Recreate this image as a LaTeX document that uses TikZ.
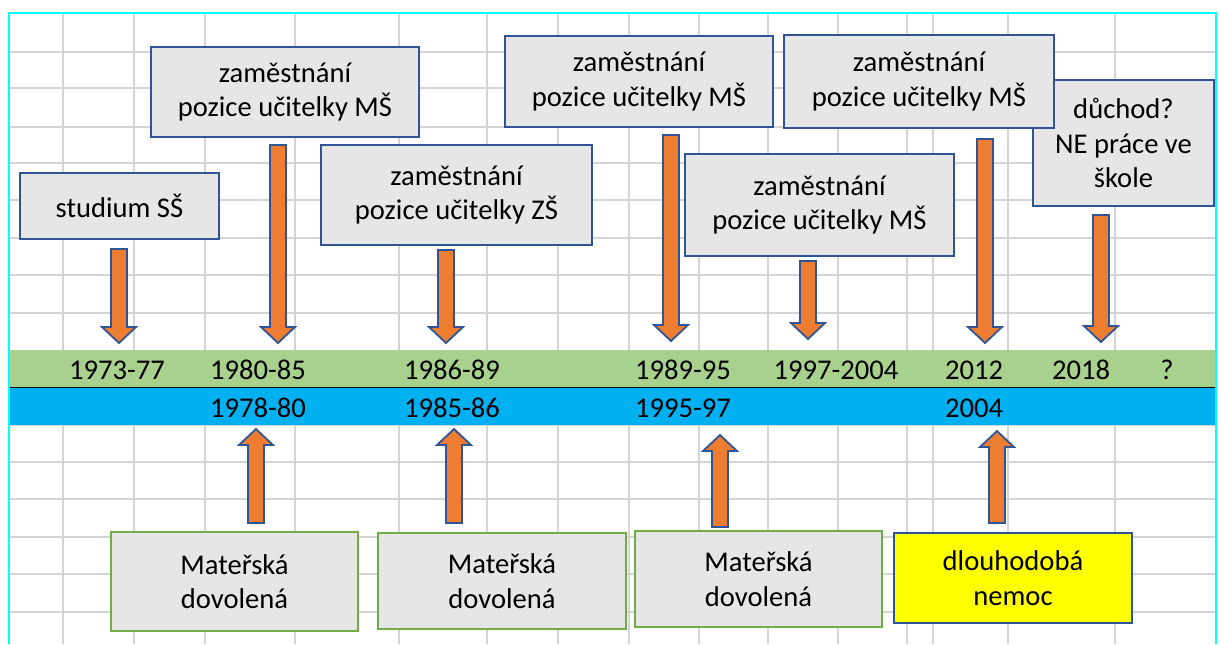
\documentclass[tikz,border=0pt]{standalone}
\usepackage{fontspec}
\setmainfont{Carlito}
\usetikzlibrary{calc}

\definecolor{boxblue}{HTML}{2F5597}
\definecolor{arrorange}{HTML}{ED7D31}
\definecolor{boxgray}{HTML}{E7E6E6}
\definecolor{bandgreen}{HTML}{A9D18E}
\definecolor{bandblue}{HTML}{00B0F0}
\definecolor{gridgray}{HTML}{D4D4D4}
\definecolor{matgreen}{HTML}{70AD47}
\definecolor{sheetcyan}{HTML}{00FFFF}
\definecolor{sickyellow}{HTML}{FFFF00}

% block arrow from tail #1 to tip #2
\newcommand\blockarrow[2]{%
  \coordinate (hb) at ($(#2)!8pt!(#1)$);
  \filldraw[blockarr]
    ($(#1)!4pt!90:(#2)$) -- ($(hb)!4pt!90:(#2)$) -- ($(hb)!8.5pt!90:(#2)$)
    -- (#2)
    -- ($(hb)!8.5pt!-90:(#2)$) -- ($(hb)!4pt!-90:(#2)$) -- ($(#1)!4pt!-90:(#2)$) -- cycle;
}

\begin{document}
\begin{tikzpicture}[x=0.5pt,y=-0.5pt,
  txt/.style={font=\fontsize{14.3}{17.3}\selectfont},
  box/.style={txt, draw=boxblue, line width=1pt, fill=boxgray, align=center, inner sep=0pt},
  matbox/.style={box, draw=matgreen},
  sickbox/.style={box, fill=sickyellow},
  yearlbl/.style={txt, anchor=base, inner sep=0pt},
  gridline/.style={draw=gridgray, line width=0.75pt},
  blockarr/.style={fill=arrorange, draw=boxblue, line width=0.9pt, line join=miter}]

\useasboundingbox (0,0) rectangle (1221,644);
\fill[white] (0,0) rectangle (1221,644);

% spreadsheet grid
\foreach \x in {63,134,205,295,399,487,558,629,699,768,838,907,933,1008,1115}
  \draw[gridline] (\x,13) -- (\x,644);
\foreach \y in {52,88,127,163,200,238,275,313,425,462,499,537,574,612}
  \draw[gridline] (9,\y) -- (1216,\y);

% timeline bands
\fill[bandgreen] (9,350) rectangle (1216,387);
\fill[bandblue] (9,387) rectangle (1216,425);
\draw[black, line width=0.5pt] (9,387) -- (1216,387);

% sheet frame
\draw[sheetcyan, line width=1pt] (9,644) -- (9,13) -- (1216,13) -- (1216,644);

% year labels
\node[yearlbl] (y1) at (117,379) {1973-77};
\node[yearlbl] (y2) at (258,379) {1980-85};
\node[yearlbl] (y3) at (452,379) {1986-89};
\node[yearlbl] (y4) at (683,379) {1989-95};
\node[yearlbl] (y5) at (836,379) {1997-2004};
\node[yearlbl] (y6) at (974,379) {2012};
\node[yearlbl] (y7) at (1081,379) {2018};
\node[yearlbl] (y8) at (1167,379) {?};
\node[yearlbl] (z1) at (258,417) {1978-80};
\node[yearlbl] (z2) at (452,417) {1985-86};
\node[yearlbl] (z3) at (683,417) {1995-97};
\node[yearlbl] (z4) at (974,417) {2004};

% arrow end points
\coordinate (a1t) at (119,249);  \coordinate (a1h) at (119,343);
\coordinate (a2t) at (278,145);  \coordinate (a2h) at (278,343);
\coordinate (a3t) at (446,250);  \coordinate (a3h) at (446,343);
\coordinate (a4t) at (671,135);  \coordinate (a4h) at (671,341);
\coordinate (a5t) at (808,261);  \coordinate (a5h) at (808,339);
\coordinate (a6t) at (985,139);  \coordinate (a6h) at (985,343);
\coordinate (a7t) at (1101,215); \coordinate (a7h) at (1101,342);
\coordinate (u1t) at (256,523);  \coordinate (u1h) at (256,429);
\coordinate (u2t) at (454,523);  \coordinate (u2h) at (454,429);
\coordinate (u3t) at (720,527);  \coordinate (u3h) at (720,435);
\coordinate (u4t) at (997,523);  \coordinate (u4h) at (997,431);

\blockarrow{a1t}{a1h}
\blockarrow{a2t}{a2h}
\blockarrow{a3t}{a3h}
\blockarrow{a4t}{a4h}
\blockarrow{a5t}{a5h}
\blockarrow{a6t}{a6h}
\blockarrow{a7t}{a7h}
\blockarrow{u1t}{u1h}
\blockarrow{u2t}{u2h}
\blockarrow{u3t}{u3h}
\blockarrow{u4t}{u4h}

% upper boxes (the retirement box lies under the last job box)
\node[box, minimum width=99.5pt, minimum height=33pt] (ss) at (119.5,206) {studium SŠ};
\node[box, minimum width=134pt, minimum height=45pt] (ms1) at (285,92) {zaměstnání\\pozice učitelky MŠ};
\node[box, minimum width=135.5pt, minimum height=50pt] (zs) at (456.5,195) {zaměstnání\\pozice učitelky ZŠ};
\node[box, minimum width=134pt, minimum height=45.5pt] (ms2) at (639,81.5) {zaměstnání\\pozice učitelky MŠ};
\node[box, minimum width=134.5pt, minimum height=51pt] (ms3) at (819.5,205) {zaměstnání\\pozice učitelky MŠ};
\node[box, minimum width=90.5pt, minimum height=63pt] (ret) at (1123.5,143) {důchod?\\NE práce ve\\škole};
\node[box, minimum width=135pt, minimum height=46.5pt] (ms4) at (919,81.5) {zaměstnání\\pozice učitelky MŠ};

% lower boxes
\node[matbox, minimum width=123.5pt, minimum height=49.5pt] (md1) at (234.5,581.5) {Mateřská\\dovolená};
\node[matbox, minimum width=124pt, minimum height=48pt] (md2) at (502,581) {Mateřská\\dovolená};
\node[matbox, minimum width=123.5pt, minimum height=48pt] (md3) at (758.5,579) {Mateřská\\dovolená};
\node[sickbox, minimum width=119pt, minimum height=45pt] (sick) at (1013,578) {dlouhodobá\\nemoc};

\end{tikzpicture}
\end{document}
